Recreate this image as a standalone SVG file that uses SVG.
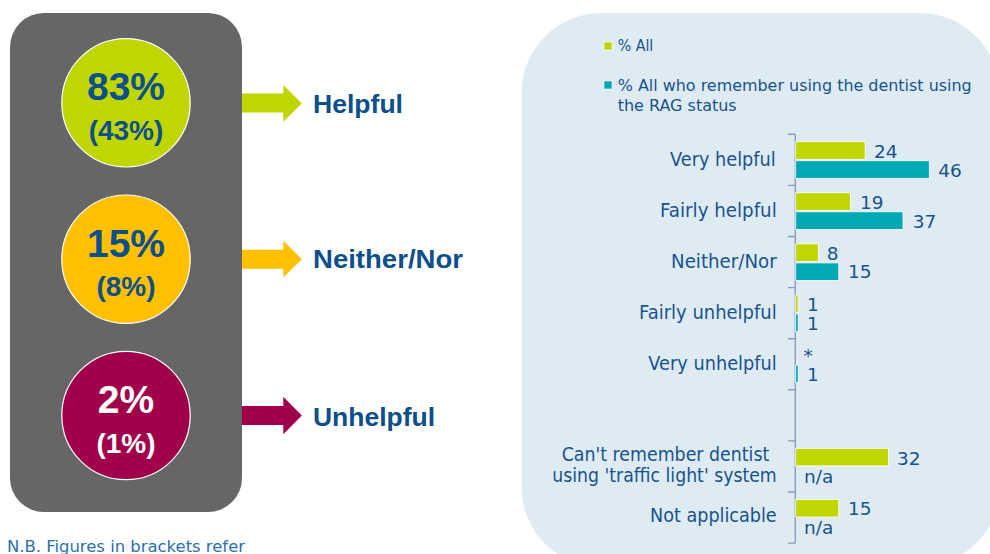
<svg xmlns="http://www.w3.org/2000/svg" width="990" height="554" viewBox="0 0 990 554">
<style>
.big{font-family:"Liberation Sans",Arial,sans-serif;font-weight:bold;font-size:39px;text-anchor:middle;fill:#0D4F8B}
.sub{font-family:"Liberation Sans",Arial,sans-serif;font-weight:bold;font-size:28px;text-anchor:middle;fill:#0D4F8B}
.lbl{font-family:"Liberation Sans",Arial,sans-serif;font-weight:bold;font-size:26px;fill:#0D4F8B}
.wt{fill:#FFFFFF}
.ch{font-family:"DejaVu Sans",Verdana,sans-serif;font-size:19px;fill:#17538F}
.lg{font-family:"DejaVu Sans",Verdana,sans-serif;font-size:16.5px;fill:#17538F}
.num{font-family:"DejaVu Sans",Verdana,sans-serif;font-size:18.5px;fill:#17538F}
.note{font-family:"DejaVu Sans",Verdana,sans-serif;font-size:16px;fill:#2A70AE}
.circ{stroke:#FFFFFF;stroke-width:1.2}
.g{fill:#BFD600;stroke:#FFFFFF;stroke-width:0.8}
.t{fill:#00A9B5;stroke:#FFFFFF;stroke-width:0.8}
.ax{stroke:#8A9CBE;stroke-width:1.4;fill:none}
</style>

<!-- panels -->
<rect id="traffic-light" x="10" y="13" width="232" height="499" rx="34" ry="34" fill="#666666"/>
<rect id="chart-panel" x="521.5" y="13" width="478" height="554" rx="80" ry="80" fill="#DFEBF2"/>

<!-- circles -->
<g id="node-helpful-circle">
  <circle class="circ" cx="126" cy="102.8" r="64.2" fill="#BFD600"/>
  <text class="big" x="126" y="100.3">83%</text>
  <text class="sub" x="126" y="139.5">(43%)</text>
</g>
<g id="node-neither-circle">
  <circle class="circ" cx="126" cy="259.2" r="64.2" fill="#FFC000"/>
  <text class="big" x="126" y="256.7">15%</text>
  <text class="sub" x="126" y="295.9">(8%)</text>
</g>
<g id="node-unhelpful-circle">
  <circle class="circ" cx="126" cy="415.5" r="64.2" fill="#A1004A"/>
  <text class="big wt" x="126" y="413">2%</text>
  <text class="sub wt" x="126" y="452.8">(1%)</text>
</g>

<!-- labels -->
<g id="node-helpful-label"><text class="lbl" x="313" y="113.3" textLength="90" lengthAdjust="spacingAndGlyphs">Helpful</text></g>
<g id="node-neither-label"><text class="lbl" x="313" y="268.3" textLength="150" lengthAdjust="spacingAndGlyphs">Neither/Nor</text></g>
<g id="node-unhelpful-label"><text class="lbl" x="313" y="425.7" textLength="122" lengthAdjust="spacingAndGlyphs">Unhelpful</text></g>

<!-- connectors (arrows) -->
<g id="connectors">
  <polygon fill="#BFD600" points="242,93.6 283.3,93.6 283.3,85 301.8,103.4 283.3,121.8 283.3,112.6 242,112.6"/>
  <polygon fill="#FFC000" points="242,249.7 283.3,249.7 283.3,240.8 301.8,259.2 283.3,277.6 283.3,268.7 242,268.7"/>
  <polygon fill="#A1004A" points="242,406 283.3,406 283.3,396.8 301.8,415.5 283.3,434.2 283.3,425 242,425"/>
</g>

<!-- footnote -->
<text class="note" x="7" y="551.7" textLength="238" lengthAdjust="spacingAndGlyphs">N.B. Figures in brackets refer</text>

<!-- chart -->
<g id="chart">
  <g id="legend">
    <rect x="604" y="42" width="8" height="8" fill="#BFD600" stroke="#FFFFFF" stroke-width="0.6"/>
    <text class="lg" x="617.7" y="51" textLength="35.6" lengthAdjust="spacingAndGlyphs">% All</text>
    <rect x="604" y="81" width="8" height="8" fill="#00A9B5" stroke="#FFFFFF" stroke-width="0.6"/>
    <text class="lg" x="617.7" y="90.7" textLength="354" lengthAdjust="spacingAndGlyphs">% All who remember using the dentist using</text>
    <text class="lg" x="617.7" y="110.7" textLength="119" lengthAdjust="spacingAndGlyphs">the RAG status</text>
  </g>

  <g id="axis">
    <line class="ax" x1="795.3" y1="134.3" x2="795.3" y2="543.2"/>
    <path class="ax" d="M788,134.3H795.3M788,185.4H795.3M788,236.5H795.3M788,287.6H795.3M788,338.7H795.3M788,389.8H795.3M788,440.9H795.3M788,492H795.3M788,543.1H795.3"/>
  </g>

  <g id="categories">
    <text class="ch" x="670" y="165.7" textLength="105.7" lengthAdjust="spacingAndGlyphs">Very helpful</text>
    <text class="ch" x="660" y="216.8" textLength="116.7" lengthAdjust="spacingAndGlyphs">Fairly helpful</text>
    <text class="ch" x="671" y="267.9" textLength="105.7" lengthAdjust="spacingAndGlyphs">Neither/Nor</text>
    <text class="ch" x="639" y="319" textLength="137.7" lengthAdjust="spacingAndGlyphs">Fairly unhelpful</text>
    <text class="ch" x="648.3" y="370.1" textLength="128.4" lengthAdjust="spacingAndGlyphs">Very unhelpful</text>
    <text class="ch" x="561.7" y="461" textLength="207.6" lengthAdjust="spacingAndGlyphs">Can't remember dentist</text>
    <text class="ch" x="552.3" y="482.3" textLength="224.4" lengthAdjust="spacingAndGlyphs">using 'traffic light' system</text>
    <text class="ch" x="650" y="522.3" textLength="126.7" lengthAdjust="spacingAndGlyphs">Not applicable</text>
  </g>

  <g id="bars">
    <rect class="g" x="795.7" y="141.7" width="69.4" height="17.6"/>
    <rect class="t" x="795.7" y="160.7" width="133.6" height="17.6"/>
    <rect class="g" x="795.7" y="192.8" width="54.8" height="17.6"/>
    <rect class="t" x="795.7" y="211.8" width="107.3" height="17.6"/>
    <rect class="g" x="795.7" y="243.9" width="22.7" height="17.6"/>
    <rect class="t" x="795.7" y="262.9" width="43.1" height="17.6"/>
    <rect class="g" x="795.7" y="295" width="2.5" height="17.6"/>
    <rect class="t" x="795.7" y="314" width="2.5" height="17.6"/>
    <rect class="t" x="795.7" y="365.1" width="2.5" height="17.6"/>
    <rect class="g" x="795.7" y="448.3" width="92.7" height="17.6"/>
    <rect class="g" x="795.7" y="499.4" width="43.1" height="17.6"/>
  </g>

  <g id="values">
    <text class="num" x="874" y="157.6">24</text>
    <text class="num" x="938.3" y="176.6">46</text>
    <text class="num" x="860" y="208.7">19</text>
    <text class="num" x="912.7" y="227.7">37</text>
    <text class="num" x="826.7" y="259.8">8</text>
    <text class="num" x="848" y="278.3">15</text>
    <text class="num" x="807" y="310.9">1</text>
    <text class="num" x="807" y="329.9">1</text>
    <text class="num" x="803.5" y="362" font-size="15">*</text>
    <text class="num" x="807" y="381">1</text>
    <text class="num" x="897" y="464.5">32</text>
    <text class="num" x="804" y="482.5">n/a</text>
    <text class="num" x="848" y="515.3">15</text>
    <text class="num" x="804" y="533.8">n/a</text>
  </g>
</g>
</svg>
